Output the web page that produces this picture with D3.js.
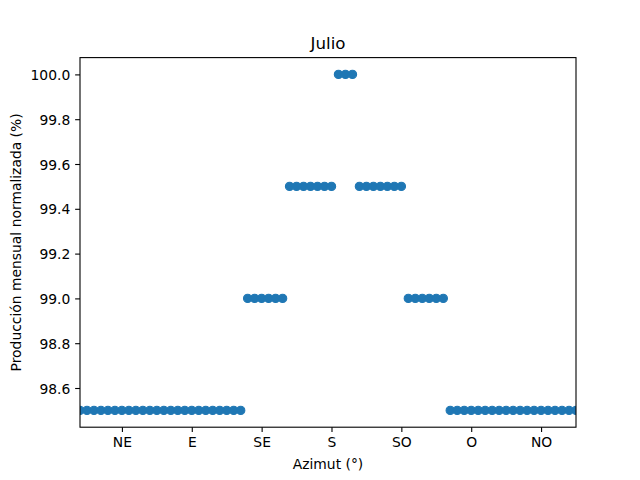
<!DOCTYPE html>
<html>
<head>
<meta charset="utf-8">
<script src="https://cdn.jsdelivr.net/npm/d3@7"></script>
<style>
  html, body { margin: 0; padding: 0; background: #fff; }
  svg { display: block; font-family: "DejaVu Sans", sans-serif; }
</style>
</head>
<body>
<svg id="chart" width="640" height="480"></svg>
<script>
// Azimuth (degrees) of each point
const azimuths = [
  18, 22.5, 27, 31.5, 36, 40.5, 45, 49.5, 54, 58.5,
  63, 67.5, 72, 76.5, 81, 85.5, 90, 94.5, 99, 103.5,
  108, 112.5, 117, 121.5, 126, 130.5, 135, 139.5, 144, 148.5,
  153, 157.5, 162, 166.5, 171, 175.5, 180, 184.5, 189, 193.5,
  198, 202.5, 207, 211.5, 216, 220.5, 225, 229.5, 234, 238.5,
  243, 247.5, 252, 256.5, 261, 265.5, 270, 274.5, 279, 283.5,
  288, 292.5, 297, 301.5, 306, 310.5, 315, 319.5, 324, 328.5,
  333, 337.5
];
// Normalized monthly production (%)
const production = [
  98.5, 98.5, 98.5, 98.5, 98.5, 98.5, 98.5, 98.5, 98.5, 98.5,
  98.5, 98.5, 98.5, 98.5, 98.5, 98.5, 98.5, 98.5, 98.5, 98.5,
  98.5, 98.5, 98.5, 98.5, 99.0, 99.0, 99.0, 99.0, 99.0, 99.0,
  99.5, 99.5, 99.5, 99.5, 99.5, 99.5, 99.5, 100.0, 100.0, 100.0,
  99.5, 99.5, 99.5, 99.5, 99.5, 99.5, 99.5, 99.0, 99.0, 99.0,
  99.0, 99.0, 99.0, 98.5, 98.5, 98.5, 98.5, 98.5, 98.5, 98.5,
  98.5, 98.5, 98.5, 98.5, 98.5, 98.5, 98.5, 98.5, 98.5, 98.5,
  98.5, 98.5
];
const xTickValues = [45, 90, 135, 180, 225, 270, 315];
const xTickLabels = ["NE", "E", "SE", "S", "SO", "O", "NO"];
const yTickValues = [98.6, 98.8, 99.0, 99.2, 99.4, 99.6, 99.8, 100.0];
const titleText = "Julio";
const xLabelText = "Azimut (°)";
const yLabelText = "Producción mensual normalizada (%)";

const svg = d3.select("#chart");
const L = 80, R = 576, T = 57.6, B = 427.2;
const color = "#1f77b4";

const yMin = d3.min(production), yMax = d3.max(production);
const yPad = (yMax - yMin) * 0.05;

const x = d3.scaleLinear().domain([d3.min(azimuths), d3.max(azimuths)]).range([L, R]);
const y = d3.scaleLinear().domain([yMin - yPad, yMax + yPad]).range([B, T]);

svg.append("defs").append("clipPath").attr("id", "clip")
  .append("rect").attr("x", L).attr("y", T).attr("width", R - L).attr("height", B - T);

// points
svg.append("g").attr("clip-path", "url(#clip)")
  .selectAll("circle").data(azimuths).join("circle")
  .attr("cx", d => x(d))
  .attr("cy", (d, i) => y(production[i]))
  .attr("r", 4.17)
  .attr("fill", color)
  .attr("stroke", color)
  .attr("stroke-width", 1.1);

const tickLen = 4.86, pad = 4.86, fs = 13.89;

// x axis
const xAxis = d3.axisBottom(x).tickValues(xTickValues)
  .tickFormat((d, i) => xTickLabels[i]).tickSize(tickLen).tickPadding(pad);
const gx = svg.append("g").attr("transform", `translate(0,${B})`).call(xAxis);
gx.select(".domain").remove();
gx.selectAll("line").attr("stroke", "#000").attr("stroke-width", 1.1);
gx.selectAll("text").attr("font-size", fs).attr("font-family", "DejaVu Sans")
  .attr("fill", "#000").attr("dy", "0.76em");

// y axis
const yAxis = d3.axisLeft(y).tickValues(yTickValues)
  .tickFormat(d3.format(".1f")).tickSize(tickLen).tickPadding(pad);
const gy = svg.append("g").attr("transform", `translate(${L},0)`).call(yAxis);
gy.select(".domain").remove();
gy.selectAll("line").attr("stroke", "#000").attr("stroke-width", 1.1);
gy.selectAll("text").attr("font-size", fs).attr("font-family", "DejaVu Sans")
  .attr("fill", "#000").attr("dy", "0.36em");

// spines
svg.append("rect").attr("x", L).attr("y", T).attr("width", R - L).attr("height", B - T)
  .attr("fill", "none").attr("stroke", "#000").attr("stroke-width", 1.1);

// title & labels
svg.append("text").attr("x", (L + R) / 2).attr("y", 49).attr("text-anchor", "middle")
  .attr("font-size", 16.67).attr("fill", "#000").text(titleText);
svg.append("text").attr("x", (L + R) / 2).attr("y", 469).attr("text-anchor", "middle")
  .attr("font-size", fs).attr("fill", "#000").text(xLabelText);
svg.append("text").attr("transform", `translate(21,${(T + B) / 2}) rotate(-90)`)
  .attr("text-anchor", "middle").attr("font-size", fs).attr("fill", "#000").text(yLabelText);
</script>
</body>
</html>
